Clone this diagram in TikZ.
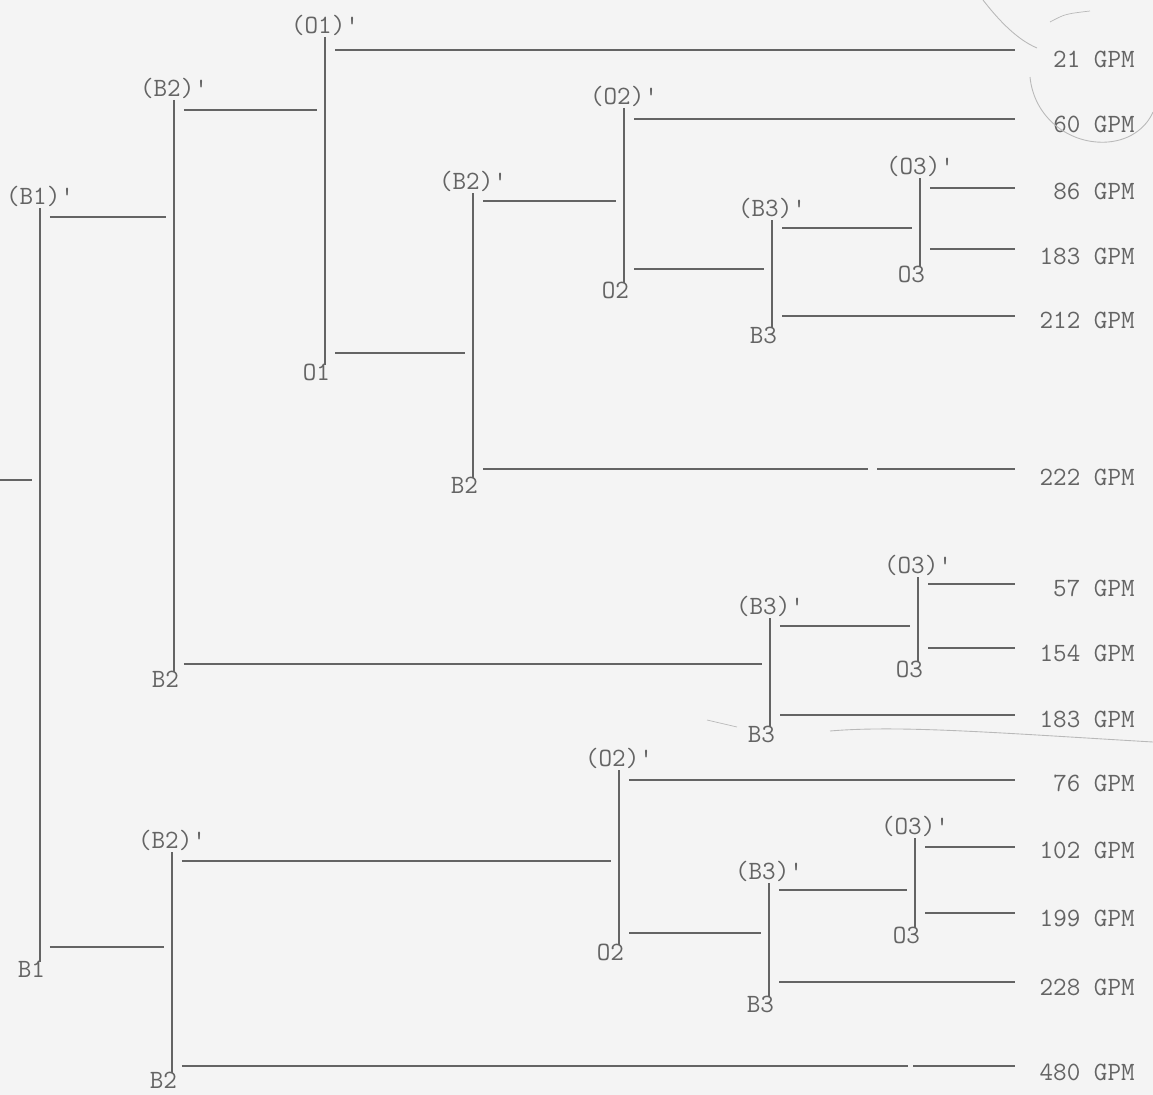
\documentclass[tikz,border=0pt]{standalone}
\usetikzlibrary{positioning}
\definecolor{Paper}{RGB}{244,244,244}
\definecolor{Ink}{RGB}{100,100,100}
\definecolor{Pencil}{RGB}{185,185,185}
\begin{document}
\begin{tikzpicture}[x=0.02cm,y=-0.02cm,
    barline/.style={draw=Ink,line width=0.7pt},
    pipe/.style={draw=Ink,line width=0.7pt,shorten <=0.2cm,shorten >=0.17cm},
    outpipe/.style={draw=Ink,line width=0.7pt,shorten <=0.2cm},
    toplab/.style={font=\fontsize{15}{15}\selectfont\ttfamily,text=Ink,inner sep=0pt},
    botlab/.style={font=\fontsize{15}{15}\selectfont\ttfamily,text=Ink,inner sep=0pt},
    gpm/.style={font=\fontsize{15}{15}\selectfont\ttfamily,text=Ink,inner sep=0pt,anchor=east}
]

\fill[Paper] (0,0) rectangle (1153,1095);
\useasboundingbox (0,0) rectangle (1153,1095);

% Right-hand end of the outlet lines, and the breaks in two of them
\coordinate (rim) at (1015,0);
\coordinate (cut1) at (868,0); \coordinate (cut2) at (877,0);
\coordinate (cut3) at (908,0); \coordinate (cut4) at (913,0);

% Junction bars (top, bottom)
\coordinate (b1-top) at (40,208);   \coordinate (b1-bot) at (40,962);
\coordinate (b2a-top) at (174,100); \coordinate (b2a-bot) at (174,672);
\coordinate (o1-top) at (325,37);   \coordinate (o1-bot) at (325,365);
\coordinate (b2b-top) at (473,193); \coordinate (b2b-bot) at (473,478);
\coordinate (o2a-top) at (624,108); \coordinate (o2a-bot) at (624,283);
\coordinate (b3a-top) at (772,220); \coordinate (b3a-bot) at (772,328);
\coordinate (o3a-top) at (920,178); \coordinate (o3a-bot) at (920,267);
\coordinate (b3b-top) at (770,618); \coordinate (b3b-bot) at (770,727);
\coordinate (o3b-top) at (918,577); \coordinate (o3b-bot) at (918,662);
\coordinate (b2c-top) at (172,852); \coordinate (b2c-bot) at (172,1073);
\coordinate (o2b-top) at (619,770); \coordinate (o2b-bot) at (619,945);
\coordinate (b3c-top) at (769,883); \coordinate (b3c-bot) at (769,997);
\coordinate (o3c-top) at (915,838); \coordinate (o3c-bot) at (915,928);

\foreach \j in {b1,b2a,o1,b2b,o2a,b3a,o3a,b3b,o3b,b2c,o2b,b3c,o3c}
    \draw[barline] (\j-top) -- (\j-bot);

% Labels on the bars
\node[toplab,above=0.5pt of b1-top] (b1-mark) {(B1)'};
\node[botlab,below left=-1pt and -3pt of b1-bot] (b1-name) {B1};
\node[toplab,above=0.5pt of b2a-top] (b2a-mark) {(B2)'};
\node[botlab,below left=-1pt and -3pt of b2a-bot] (b2a-name) {B2};
\node[toplab,above=0.5pt of o1-top] (o1-mark) {(O1)'};
\node[botlab,below left=-1pt and -3pt of o1-bot] (o1-name) {O1};
\node[toplab,above=0.5pt of b2b-top] (b2b-mark) {(B2)'};
\node[botlab,below left=-1pt and -3pt of b2b-bot] (b2b-name) {B2};
\node[toplab,above=0.5pt of o2a-top] (o2a-mark) {(O2)'};
\node[botlab,below left=-1pt and -3pt of o2a-bot] (o2a-name) {O2};
\node[toplab,above=0.5pt of b3a-top] (b3a-mark) {(B3)'};
\node[botlab,below left=-1pt and -3pt of b3a-bot] (b3a-name) {B3};
\node[toplab,above=0.5pt of o3a-top] (o3a-mark) {(O3)'};
\node[botlab,below left=-1pt and -3pt of o3a-bot] (o3a-name) {O3};
\node[toplab,above=0.5pt of b3b-top] (b3b-mark) {(B3)'};
\node[botlab,below left=-1pt and -3pt of b3b-bot] (b3b-name) {B3};
\node[toplab,above=0.5pt of o3b-top] (o3b-mark) {(O3)'};
\node[botlab,below left=-1pt and -3pt of o3b-bot] (o3b-name) {O3};
\node[toplab,above=0.5pt of b2c-top] (b2c-mark) {(B2)'};
\node[botlab,below left=-1pt and -3pt of b2c-bot] (b2c-name) {B2};
\node[toplab,above=0.5pt of o2b-top] (o2b-mark) {(O2)'};
\node[botlab,below left=-1pt and -3pt of o2b-bot] (o2b-name) {O2};
\node[toplab,above=0.5pt of b3c-top] (b3c-mark) {(B3)'};
\node[botlab,below left=-1pt and -3pt of b3c-bot] (b3c-name) {B3};
\node[toplab,above=0.5pt of o3c-top] (o3c-mark) {(O3)'};
\node[botlab,below left=-1pt and -3pt of o3c-bot] (o3c-name) {O3};

% Flow rates
\node[gpm] (q21) at (1135,59) {21 GPM};
\node[gpm] (q60) at (1135,124) {60 GPM};
\node[gpm] (q86) at (1135,191) {86 GPM};
\node[gpm] (q183a) at (1135,256) {183 GPM};
\node[gpm] (q212) at (1135,320) {212 GPM};
\node[gpm] (q222) at (1135,477) {222 GPM};
\node[gpm] (q57) at (1135,588) {57 GPM};
\node[gpm] (q154) at (1135,653) {154 GPM};
\node[gpm] (q183b) at (1135,719) {183 GPM};
\node[gpm] (q76) at (1135,783) {76 GPM};
\node[gpm] (q102) at (1135,850) {102 GPM};
\node[gpm] (q199) at (1135,918) {199 GPM};
\node[gpm] (q228) at (1135,987) {228 GPM};
\node[gpm] (q480) at (1135,1072) {480 GPM};

% Branch points on the bars
\coordinate (inlet) at (0,480);
\coordinate (b1-hi) at (40,217);   \coordinate (b1-lo) at (40,947);
\coordinate (b2a-hi) at (174,110); \coordinate (b2a-lo) at (174,664);
\coordinate (o1-hi) at (325,50);   \coordinate (o1-lo) at (325,353);
\coordinate (b2b-hi) at (473,201); \coordinate (b2b-lo) at (473,469);
\coordinate (o2a-hi) at (624,119); \coordinate (o2a-lo) at (624,269);
\coordinate (b3a-hi) at (772,228); \coordinate (b3a-lo) at (772,316);
\coordinate (o3a-hi) at (920,188); \coordinate (o3a-lo) at (920,249);
\coordinate (b3b-hi) at (770,626); \coordinate (b3b-lo) at (770,715);
\coordinate (o3b-hi) at (918,584); \coordinate (o3b-lo) at (918,648);
\coordinate (b2c-hi) at (172,861); \coordinate (b2c-lo) at (172,1066);
\coordinate (o2b-hi) at (619,780); \coordinate (o2b-lo) at (619,933);
\coordinate (b3c-hi) at (769,890); \coordinate (b3c-lo) at (769,982);
\coordinate (o3c-hi) at (915,847); \coordinate (o3c-lo) at (915,913);

% Lines from bar to bar
\draw[barline,shorten >=0.16cm] (inlet) -- (inlet -| b1-top);
\draw[pipe] (b1-hi) -- (b1-hi -| b2a-top);
\draw[pipe] (b1-lo) -- (b1-lo -| b2c-top);
\draw[pipe] (b2a-hi) -- (b2a-hi -| o1-top);
\draw[pipe] (b2a-lo) -- (b2a-lo -| b3b-top);
\draw[pipe] (o1-lo) -- (o1-lo -| b2b-top);
\draw[pipe] (b2b-hi) -- (b2b-hi -| o2a-top);
\draw[pipe] (o2a-lo) -- (o2a-lo -| b3a-top);
\draw[pipe] (b3a-hi) -- (b3a-hi -| o3a-top);
\draw[pipe] (b3b-hi) -- (b3b-hi -| o3b-top);
\draw[pipe] (b2c-hi) -- (b2c-hi -| o2b-top);
\draw[pipe] (o2b-lo) -- (o2b-lo -| b3c-top);
\draw[pipe] (b3c-hi) -- (b3c-hi -| o3c-top);

% Lines out to the flow rates
\draw[outpipe] (o1-hi) -- (o1-hi -| rim);
\draw[outpipe] (o2a-hi) -- (o2a-hi -| rim);
\draw[outpipe] (o3a-hi) -- (o3a-hi -| rim);
\draw[outpipe] (o3a-lo) -- (o3a-lo -| rim);
\draw[outpipe] (b3a-lo) -- (b3a-lo -| rim);
\draw[outpipe] (b2b-lo) -- (b2b-lo -| cut1);
\draw[barline] (b2b-lo -| cut2) -- (b2b-lo -| rim);
\draw[outpipe] (o3b-hi) -- (o3b-hi -| rim);
\draw[outpipe] (o3b-lo) -- (o3b-lo -| rim);
\draw[outpipe] (b3b-lo) -- (b3b-lo -| rim);
\draw[outpipe] (o2b-hi) -- (o2b-hi -| rim);
\draw[outpipe] (o3c-hi) -- (o3c-hi -| rim);
\draw[outpipe] (o3c-lo) -- (o3c-lo -| rim);
\draw[outpipe] (b3c-lo) -- (b3c-lo -| rim);
\draw[outpipe] (b2c-lo) -- (b2c-lo -| cut3);
\draw[barline] (b2c-lo -| cut4) -- (b2c-lo -| rim);

% Pencil marks
\draw[Pencil,line width=0.5pt] (983,0) .. controls (1000,22) and (1018,40) .. (1037,48);
\draw[Pencil,line width=0.4pt] (1050,22) .. controls (1065,14) .. (1090,11);
\draw[Pencil,line width=0.5pt] (1030,77) .. controls (1034,118) and (1070,145) .. (1108,142) .. controls (1132,140) and (1147,126) .. (1153,112);
\draw[Pencil,line width=0.5pt] (830,731) .. controls (900,725) and (1000,733) .. (1153,742);
\draw[Pencil,line width=0.4pt] (707,720) -- (737,727);

\end{tikzpicture}
\end{document}
